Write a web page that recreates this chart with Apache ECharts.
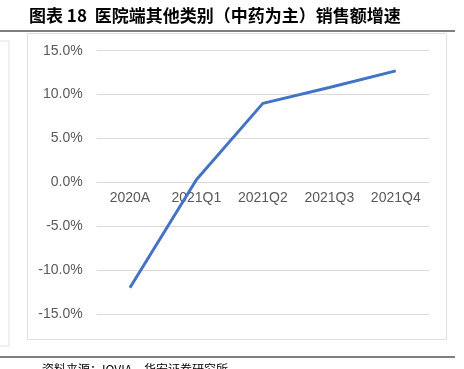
<!DOCTYPE html>
<html><head><meta charset="utf-8">
<script src="https://cdn.jsdelivr.net/npm/echarts@6/dist/echarts.min.js"></script>
<style>html,body{margin:0;padding:0;background:#fff}#c{width:464px;height:369px}</style>
</head><body><div id="c"></div>
<script>
const categories = ['2020A', '2021Q1', '2021Q2', '2021Q3', '2021Q4'];
const growth = [-12.0, 0.3, 9.0, 10.8, 12.7];
const titleText = '图表 18  医院端其他类别（中药为主）销售额增速';
const sourceText = '资料来源：IOVIA，华安证券研究所';

const gridTop = 50.7, gridBottom = 55, H = 369;
const plotH = H - gridTop - gridBottom;

const chart = echarts.init(document.getElementById('c'), null, {renderer: 'canvas'});
chart.setOption({
  backgroundColor: '#fff',
  animation: false,
  graphic: [
    {type: 'text', left: 29, top: 7, style: {text: titleText, font: 'bold 17px "Noto Sans CJK SC"', fill: '#000'}},
    {type: 'line', shape: {x1: 0, y1: 31, x2: 455, y2: 31}, style: {stroke: '#7f7f7f', lineWidth: 2}},
    {type: 'rect', shape: {x: -5, y: 41, width: 14, height: 305}, style: {fill: 'none', stroke: '#e0e0e0', lineWidth: 1}},
    {type: 'rect', shape: {x: 27.5, y: 33.5, width: 419, height: 306}, style: {fill: 'none', stroke: '#e0e0e0', lineWidth: 1}},
    {type: 'line', shape: {x1: 0, y1: 357, x2: 455, y2: 357}, style: {stroke: '#7f7f7f', lineWidth: 2}},
    {type: 'text', left: 42, top: 363, style: {text: sourceText, font: '12px "Noto Sans CJK SC"', fill: '#000'}}
  ],
  grid: {left: 96.7, right: 35, top: gridTop, bottom: gridBottom, containLabel: false},
  xAxis: {
    type: 'category', data: categories, boundaryGap: true, position: 'bottom',
    offset: -plotH / 2,
    axisLine: {show: true, onZero: false, lineStyle: {color: '#d9d9d9', width: 1}},
    axisTick: {show: false},
    axisLabel: {color: '#595959', fontFamily: 'Liberation Sans', fontSize: 14, margin: 9}
  },
  yAxis: {
    type: 'value', min: -15, max: 15, interval: 5,
    axisLine: {show: false}, axisTick: {show: false},
    splitLine: {lineStyle: {color: '#d9d9d9', width: 1}},
    axisLabel: {color: '#595959', fontFamily: 'Liberation Sans', fontSize: 14, margin: 14,
      formatter: v => v.toFixed(1) + '%'}
  },
  series: [{
    type: 'line', data: growth, symbol: 'none', z: 5,
    lineStyle: {color: '#4472C4', width: 3}
  }]
});
</script></body></html>
